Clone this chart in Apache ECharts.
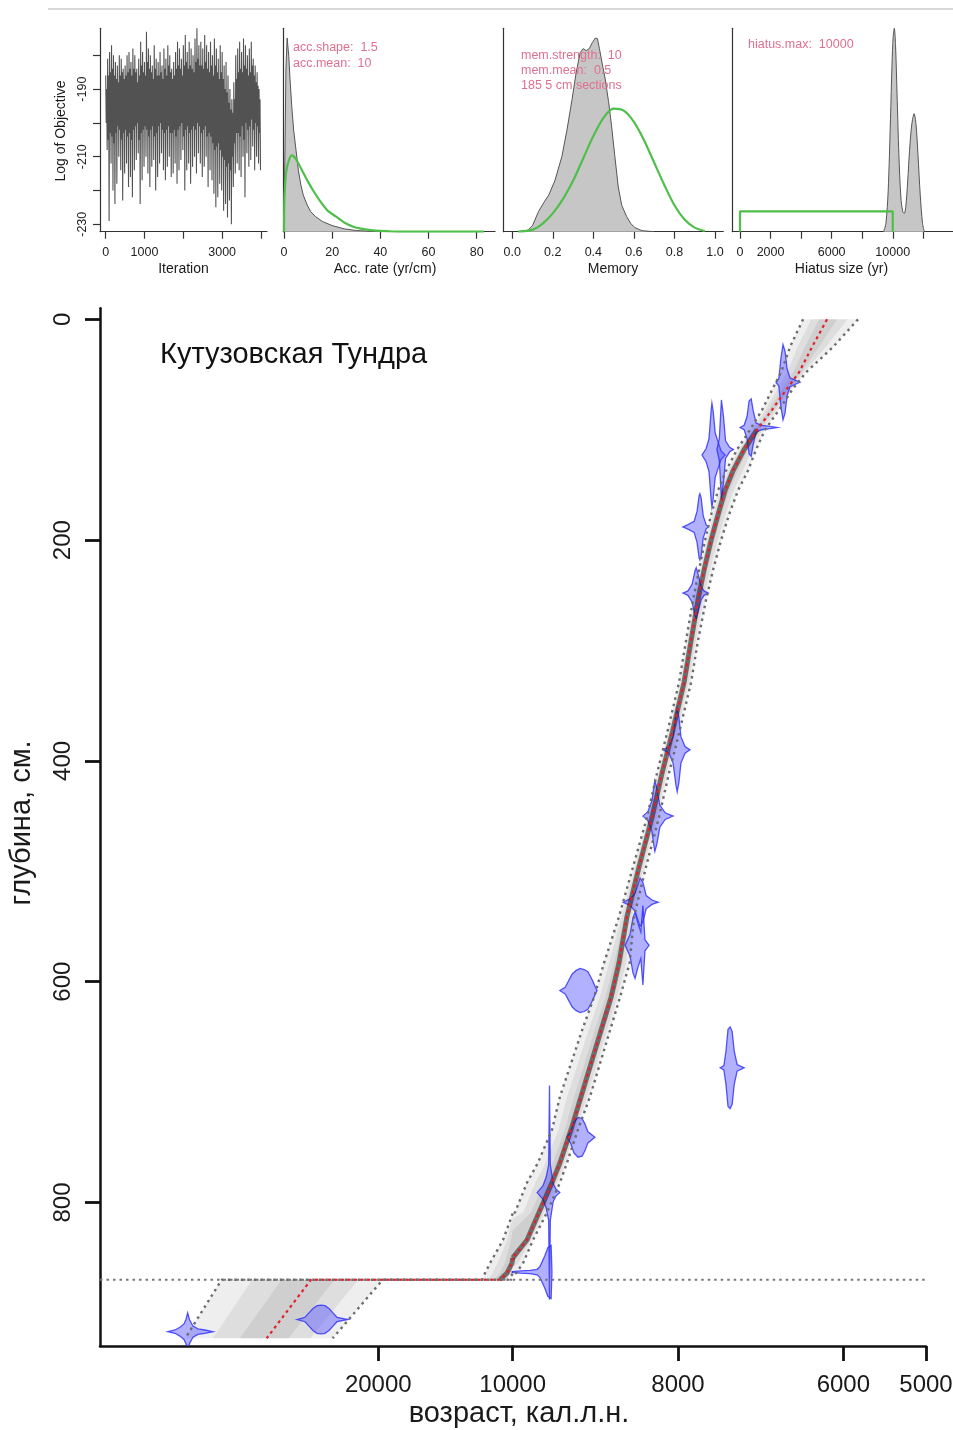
<!DOCTYPE html>
<html>
<head>
<meta charset="utf-8">
<script src="https://cdn.jsdelivr.net/npm/echarts@6/dist/echarts.min.js"></script>
<style>
  html, body { margin: 0; padding: 0; background: #fff; }
  #c { width: 953px; height: 1430px; }
</style>
</head>
<body>
<div id="c"></div>
<script>
// ---------- MCMC trace (log of objective), summarised per 50 iterations ----------
const traceStep = 50;
const traceHigh = [
  -186,-181,-179,-177,-180,-182,-183,-180,-181,-184,
  -183,-180,-179,-182,-178,-180,-184,-181,-176,-179,
  -182,-173,-178,-180,-183,-177,-181,-182,-179,-183,
  -178,-181,-177,-180,-184,-182,-179,-176,-178,-181,
  -177,-174,-179,-176,-178,-180,-175,-172,-177,-176,
  -178,-174,-177,-179,-176,-180,-175,-178,-181,-177,
  -179,-183,-182,-186,-190,-193,-188,-180,-178,-176,
  -179,-175,-177,-180,-178,-176,-181,-183,-185,-190
];
const traceMidHigh = [
  -190,-186,-185,-184,-186,-187,-188,-186,-185,-187,
  -186,-185,-184,-186,-184,-185,-188,-186,-183,-185,
  -186,-182,-184,-185,-187,-184,-186,-186,-185,-187,
  -184,-186,-183,-185,-187,-186,-184,-183,-184,-186,
  -183,-182,-184,-183,-184,-185,-182,-181,-183,-183,
  -184,-182,-184,-185,-183,-186,-183,-185,-187,-185,
  -187,-190,-191,-194,-196,-197,-193,-187,-185,-184,
  -185,-183,-184,-186,-185,-183,-186,-188,-189,-193
];
const traceMidLow = [
  -200,-205,-203,-204,-206,-203,-201,-202,-205,-203,
  -202,-204,-203,-205,-202,-201,-200,-205,-203,-202,
  -201,-202,-204,-202,-201,-204,-203,-201,-200,-202,
  -203,-202,-201,-203,-203,-202,-204,-202,-201,-200,
  -204,-202,-201,-203,-202,-201,-202,-200,-201,-203,
  -202,-201,-204,-203,-204,-206,-208,-207,-206,-208,
  -210,-211,-213,-212,-214,-210,-206,-203,-203,-204,
  -201,-205,-200,-202,-201,-199,-202,-200,-201,-203
];
const traceLow = [
  -208,-229,-212,-220,-224,-218,-210,-214,-223,-215,
  -212,-219,-216,-222,-214,-211,-209,-224,-217,-213,
  -210,-215,-219,-213,-211,-220,-216,-212,-209,-214,
  -217,-213,-210,-216,-215,-212,-218,-214,-211,-208,
  -220,-214,-212,-218,-213,-210,-215,-209,-212,-216,
  -213,-210,-219,-214,-217,-221,-225,-222,-218,-220,
  -226,-224,-228,-223,-230,-219,-215,-212,-214,-216,
  -210,-222,-209,-213,-211,-207,-214,-210,-212,-214
];

// ---------- accumulation rate: posterior (grey) and gamma prior (green) ----------
const accPostX  = [0,0.4,0.8,1.3,2,2.5,3.2,4,5,6,7,8,9.5,11,13,16,20,25,30,36,42];
const accPostY  = [0,0.4,0.8,0.952,0.86,0.75,0.62,0.5,0.4,0.3,0.23,0.18,0.135,0.1,0.075,0.05,0.03,0.014,0.006,0.002,0];
const accPriorX = [0,0.1,0.4,1,2,3.2,4.5,6,8,10,12.5,15,18,21.5,25,28.5,32,36,40,45,50,83];
const accPriorY = [0,0.13,0.22,0.3,0.35,0.375,0.365,0.335,0.29,0.245,0.195,0.15,0.105,0.075,0.045,0.026,0.015,0.008,0.004,0.001,0,0];

// ---------- memory: posterior (grey) and beta prior (green) ----------
const memPostX  = [0.06,0.08,0.1,0.13,0.16,0.18,0.21,0.245,0.27,0.295,0.315,0.335,0.35,0.365,0.38,0.395,0.41,0.42,0.43,0.445,0.457,0.475,0.49,0.505,0.523,0.54,0.564,0.585,0.605,0.64,0.7];
const memPostY  = [0,0.01,0.03,0.1,0.15,0.18,0.25,0.37,0.5,0.65,0.78,0.88,0.9,0.89,0.9,0.93,0.952,0.95,0.9,0.82,0.76,0.64,0.52,0.38,0.22,0.13,0.075,0.04,0.02,0.005,0];
const memPriorX = [0.03,0.1,0.15,0.2,0.25,0.3,0.35,0.4,0.45,0.5,0.55,0.6,0.65,0.7,0.75,0.8,0.85,0.9,0.95];
const memPriorY = [0,0.01,0.04,0.09,0.16,0.25,0.36,0.47,0.56,0.605,0.595,0.54,0.45,0.34,0.23,0.13,0.06,0.02,0.003];

// ---------- hiatus size: posterior (grey) and uniform prior (green) ----------
const hiatusPostX  = [9400,9550,9700,9850,9950,10030,10100,10180,10280,10400,10530,10650,10750,10850,10980,11100,11250,11400,11520,11650,11800,11950,12070];
const hiatusPostY  = [0,0.04,0.2,0.55,0.82,0.96,1.0,0.92,0.68,0.38,0.17,0.1,0.09,0.12,0.25,0.4,0.53,0.58,0.53,0.38,0.18,0.04,0];
const hiatusPriorX = [0,0,10000,10000];
const hiatusPriorY = [0,0.1,0.1,0];

// ---------- age-depth model (cal BP) ----------
const hiatusDepth = 870;
const modelDepth = [0,25,48,64,82,100,118,137,155,177,200,227,254,291,329,375,411,451,496,541,583,614,644,674,704,734,764,782,809,834,855,864,870,870,923];
const modelOld   = [6487,6645,6754,6863,6983,7129,7286,7419,7516,7600,7673,7746,7818,7903,7988,8133,8254,8375,8544,8714,8895,9016,9161,9294,9428,9524,9694,9827,9972,10722,11689,12061,12284,31650,34360];
const modelMean  = [6197,6378,6536,6693,6863,7044,7201,7334,7431,7516,7600,7685,7758,7842,7927,8072,8193,8314,8472,8617,8714,8810,8931,9052,9173,9294,9428,9524,9682,9827,10052,10424,10945,25006,28300];
const modelYoung = [5822,6124,6451,6621,6778,6947,7056,7153,7274,7383,7479,7576,7661,7758,7842,7988,8109,8230,8387,8532,8585,8701,8822,8943,9064,9210,9343,9428,9585,9754,9875,9960,10350,19672,23390];

// ---------- calibrated dates: depth, and probability outline (age, half-height in cm) ----------
const dateDepth = [57,98,123,118,188,248,390,450,528,567,608,678,741,791,863,917,906];
const dateAges = [
  [6815,6780,6755,6730,6705,6680,6645,6585,6525],
  [7250,7200,7165,7140,7115,7090,7055,6985,6885,6800],
  [7710,7660,7625,7600,7590,7575,7550,7515,7480,7430],
  [7530,7500,7475,7450,7425,7375,7330],
  [7940,7880,7805,7770,7745,7735,7720,7695,7660,7635],
  [7940,7880,7830,7795,7780,7760,7720,7685,7635],
  [8180,8110,8060,8025,8010,7990,7965,7915,7855],
  [8425,8365,8315,8290,8280,8255,8220,8155,8060],
  [8665,8580,8520,8485,8460,8425,8385,8315,8240],
  [8640,8580,8545,8520,8485,8450,8425,8400,8350],
  [9430,9365,9330,9280,9235,9185,9135,9090,9040,9005,8980],
  [7490,7445,7420,7395,7370,7345,7320,7285,7200],
  [9345,9295,9260,9210,9160,9125,9090,9005],
  [9705,9635,9595,9565,9555,9545,9510,9475,9430],
  [10055,9910,9790,9705,9670,9610,9575,9535,9525],
  [35645,35125,34755,34455,34305,34180,34045,33785,33415,32895,32300],
  [26050,25455,25155,24860,24560,24260,23965,23665,23370,23070,22255]
];
const dateHalf = [
  [0,3.5,22,34,28,12,4,2,0],
  [0,2,10,24,26,15,4,2,1,0],
  [0,6,15,40,47,40,20,12,4,0],
  [0,10,45,30,8,2,0],
  [0,2,5,14,28,30,26,10,2,0],
  [0,2,8,20,23,18,6,2,0],
  [0,3,12,32,38,30,12,3,0],
  [0,4,14,28,32,25,10,3,0],
  [0,3,8,16,22,18,6,2,0],
  [0,10,25,30,20,12,36,5,0],
  [0,3,8,15,18,20,19,17,10,4,0],
  [0,2,15,35,37,33,15,3,0],
  [0,6,14,18,17,12,5,0],
  [0,6,14,25,97,25,8,3,0],
  [0,1,1.5,2.5,5,15,22,24,0],
  [0,1.5,4,7,11,17,11,5,2.5,1.5,0],
  [0,2,6,10,12.5,13,12.5,10,6,2,0]
];

// ---------- tick positions ----------
const iterTicks = [0,1000,2000,3000,4000];
const iterLabels = [0,1000,3000];
const objTicks = [-230,-220,-210,-200,-190,-180];
const objLabels = [-230,-210,-190];
const accTicks = [0,20,40,60,80];
const memTicks = [0,0.2,0.4,0.6,0.8,1.0];
const hiatusTicks = [0,2000,4000,6000,8000,10000,12000];
const hiatusLabels = [0,2000,6000,10000];
const depthTicks = [0,200,400,600,800];
const ageTicksOld = [20000];
const ageTicksYoung = [10000,8000,6000,5000];

// the age axis is drawn in two linear pieces that meet at this age
const SPLIT_AGE = 10000;

const FONT = '"Liberation Sans", Arial, Helvetica, sans-serif';
const PINK = '#df7090';
const GREEN = '#4fbf4a';

function zip(xs, ys) { return xs.map((x, i) => [x, ys[i]]); }
const plain = v => String(v);

// small panel axes
function smallX(grid, min, max, ticks, labels, fmt) {
  return {
    type: 'value', gridIndex: grid, min, max,
    axisLine: { show: true, onZero: false, lineStyle: { color: '#333', width: 1.2 } },
    axisTick: { show: true, customValues: ticks, length: 7, lineStyle: { color: '#333', width: 1.2 } },
    axisLabel: { show: true, customValues: labels, margin: 14, fontSize: 12.5, color: '#222',
                 fontFamily: FONT, formatter: fmt || plain },
    splitLine: { show: false }
  };
}
function smallY(grid) {
  return {
    type: 'value', gridIndex: grid, min: 0, max: 1,
    axisLine: { show: true, onZero: false, lineStyle: { color: '#333', width: 1.2 } },
    axisTick: { show: false }, axisLabel: { show: false }, splitLine: { show: false }
  };
}
function ageAxis(grid, min, max, ticks) {
  return {
    type: 'value', gridIndex: grid, inverse: true, min, max,
    axisLine: { show: true, onZero: false, lineStyle: { color: '#111', width: 2.5 } },
    axisTick: { show: true, customValues: ticks, length: 15, lineStyle: { color: '#111', width: 2.8 } },
    axisLabel: { show: true, customValues: ticks, margin: 27, fontSize: 24, color: '#1a1a1a',
                 fontFamily: FONT, formatter: plain },
    splitLine: { show: false }
  };
}

const mainTop = 308.3, mainHeight = 1037.7;
const grids = [
  { left: 100,   top: 28.3, width: 167,   height: 203.4 },
  { left: 283.3, top: 28.3, width: 211.7, height: 203.4 },
  { left: 503.3, top: 28.3, width: 220,   height: 203.4 },
  { left: 732.3, top: 28.3, width: 220.7, height: 203.4 },
  { left: 100,   top: mainTop, width: 412.7, height: mainHeight },   // ages older than 10 000
  { left: 512.7, top: mainTop, width: 413.3, height: mainHeight }    // ages 10 000 - 5 000
].map(g => Object.assign({ outerBoundsMode: 'none', containLabel: false }, g));

const xAxes = [
  smallX(0, -147, 4155, iterTicks, iterLabels),
  smallX(1, -0.29, 87.6, accTicks, accTicks),
  smallX(2, -0.044, 1.041, memTicks, memTicks, v => v.toFixed(1)),
  smallX(3, -504, 13944, hiatusTicks, hiatusLabels),
  ageAxis(4, SPLIT_AGE, 40700, ageTicksOld),
  ageAxis(5, 5000, SPLIT_AGE, ageTicksYoung)
];

const yAxes = [
  {
    type: 'value', gridIndex: 0, min: -232.2, max: -172,
    axisLine: { show: true, onZero: false, lineStyle: { color: '#333', width: 1.2 } },
    axisTick: { show: true, customValues: objTicks, length: 7, lineStyle: { color: '#333', width: 1.2 } },
    axisLabel: { show: true, customValues: objLabels, rotate: 90, margin: 11, fontSize: 12.5, color: '#222', fontFamily: FONT },
    splitLine: { show: false }
  },
  smallY(1), smallY(2), smallY(3),
  {
    type: 'value', gridIndex: 4, inverse: true, min: -10, max: 930,
    axisLine: { show: true, onZero: false, lineStyle: { color: '#111', width: 2.5 } },
    axisTick: { show: true, customValues: depthTicks, length: 15, lineStyle: { color: '#111', width: 2.8 } },
    axisLabel: { show: true, customValues: depthTicks, rotate: 90, margin: 25, fontSize: 24, color: '#1a1a1a', fontFamily: FONT },
    splitLine: { show: false }
  },
  { type: 'value', gridIndex: 5, inverse: true, min: -10, max: 930, show: false }
];

// trace: sweep through each block's extremes and its typical range
const traceData = [];
traceHigh.forEach((h, i) => {
  const x0 = i * traceStep;
  traceData.push([x0, h]);
  traceData.push([x0 + traceStep * 0.25, traceMidLow[i]]);
  traceData.push([x0 + traceStep * 0.5, traceMidHigh[i]]);
  traceData.push([x0 + traceStep * 0.75, traceLow[i]]);
});

const series = [
  { type: 'line', xAxisIndex: 0, yAxisIndex: 0, data: traceData, symbol: 'none',
    lineStyle: { color: '#525252', width: 1.1 } },
  { type: 'line', xAxisIndex: 1, yAxisIndex: 1, data: zip(accPostX, accPostY), symbol: 'none',
    lineStyle: { color: '#555', width: 1 }, areaStyle: { color: '#c6c6c6', opacity: 1 } },
  { type: 'line', xAxisIndex: 1, yAxisIndex: 1, data: zip(accPriorX, accPriorY), symbol: 'none', smooth: 0.2,
    lineStyle: { color: GREEN, width: 2.2 } },
  { type: 'line', xAxisIndex: 2, yAxisIndex: 2, data: zip(memPostX, memPostY), symbol: 'none',
    lineStyle: { color: '#555', width: 1 }, areaStyle: { color: '#c6c6c6', opacity: 1 } },
  { type: 'line', xAxisIndex: 2, yAxisIndex: 2, data: zip(memPriorX, memPriorY), symbol: 'none', smooth: 0.3,
    lineStyle: { color: GREEN, width: 2.2 } },
  { type: 'line', xAxisIndex: 3, yAxisIndex: 3, data: zip(hiatusPostX, hiatusPostY), symbol: 'none', smooth: 0.3,
    lineStyle: { color: '#555', width: 1 }, areaStyle: { color: '#c6c6c6', opacity: 1 } },
  { type: 'line', xAxisIndex: 3, yAxisIndex: 3, data: zip(hiatusPriorX, hiatusPriorY), symbol: 'none',
    lineStyle: { color: GREEN, width: 2.2 } }
];

// ---- splitting marks between the two pieces of the age axis ----
const onSide = (age, old) => old ? age >= SPLIT_AGE : age <= SPLIT_AGE;

// polyline -> list of continuous pieces lying on one side of the split
function linePieces(ages, depths, old) {
  const pieces = [];
  let cur = [];
  for (let i = 0; i < ages.length; i++) {
    if (i > 0 && onSide(ages[i - 1], old) !== onSide(ages[i], old)) {
      const t = (SPLIT_AGE - ages[i - 1]) / (ages[i] - ages[i - 1]);
      cur.push([SPLIT_AGE, depths[i - 1] + t * (depths[i] - depths[i - 1])]);
      if (!onSide(ages[i], old)) { pieces.push(cur); cur = []; }
    }
    if (onSide(ages[i], old)) cur.push([ages[i], depths[i]]);
  }
  if (cur.length > 1) pieces.push(cur);
  return pieces.filter(p => p.length > 1);
}

// polygon (in data units) clipped to one side of the split
function clipPolygon(pts, old) {
  const out = [];
  for (let i = 0; i < pts.length; i++) {
    const p = pts[i], q = pts[(i + 1) % pts.length];
    const pin = onSide(p[0], old), qin = onSide(q[0], old);
    if (pin) out.push(p);
    if (pin !== qin) {
      const t = (SPLIT_AGE - p[0]) / (q[0] - p[0]);
      out.push([SPLIT_AGE, p[1] + t * (q[1] - p[1])]);
    }
  }
  return out;
}

const hiatusIdx = modelDepth.indexOf(hiatusDepth);

function bandPoints(a, b, leftFn, rightFn) {
  const pts = [];
  for (let i = a; i <= b; i++) pts.push([leftFn(i), modelDepth[i]]);
  for (let i = b; i >= a; i--) pts.push([rightFn(i), modelDepth[i]]);
  return pts;
}

function makeBandRenderer(old) {
  return function (params, api) {
    const segs = [[0, hiatusIdx], [hiatusIdx + 1, modelDepth.length - 1]];
    const layers = [1, 0.66, 0.33];
    const children = [];
    segs.forEach(([a, b]) => {
      layers.forEach(f => {
        const pts = clipPolygon(bandPoints(a, b,
          i => modelMean[i] + f * (modelOld[i] - modelMean[i]),
          i => modelMean[i] + f * (modelYoung[i] - modelMean[i])), old);
        if (pts.length > 2) {
          children.push({ type: 'polygon', shape: { points: pts.map(p => api.coord(p)) },
                          style: { fill: 'rgba(0,0,0,0.065)' } });
        }
      });
    });
    return { type: 'group', children };
  };
}

function makeDateRenderer(old) {
  return function (params, api) {
    const k = api.value(2);
    const ages = dateAges[k], half = dateHalf[k], d = dateDepth[k];
    const pts = [];
    for (let i = 0; i < ages.length; i++) pts.push([ages[i], d - half[i]]);
    for (let i = ages.length - 1; i >= 0; i--) pts.push([ages[i], d + half[i]]);
    const clipped = clipPolygon(pts, old);
    if (clipped.length < 3) return null;
    return { type: 'polygon', shape: { points: clipped.map(p => api.coord(p)) },
             style: { fill: 'rgba(70,70,255,0.42)', stroke: 'rgba(45,45,250,0.8)', lineWidth: 1.3 } };
  };
}

const dateData = dateDepth.map((d, k) => {
  const peak = dateHalf[k].indexOf(Math.max(...dateHalf[k]));
  return [dateAges[k][peak], d, k];
});

const coreStart = modelDepth.indexOf(100);
const coreAges = modelMean.slice(coreStart, hiatusIdx + 1);
const coreDepths = modelDepth.slice(coreStart, hiatusIdx + 1);

function pushLines(ax, pieces, lineStyle) {
  pieces.forEach(p => series.push({ type: 'line', xAxisIndex: ax, yAxisIndex: ax, data: p,
                                    symbol: 'none', clip: false, silent: true, lineStyle }));
}

[[4, true, [40700, SPLIT_AGE]], [5, false, [SPLIT_AGE, 4950]]].forEach(([ax, old, span]) => {
  series.push(
    { type: 'custom', xAxisIndex: ax, yAxisIndex: ax, clip: true, silent: true,
      data: [[modelMean[0], modelDepth[0]]], renderItem: makeBandRenderer(old) }
  );
  pushLines(ax, linePieces(coreAges, coreDepths, old), { color: 'rgba(35,25,20,0.55)', width: 5 });
  series.push(
    { type: 'custom', xAxisIndex: ax, yAxisIndex: ax, clip: true, silent: true,
      data: dateData, renderItem: makeDateRenderer(old) }
  );
  pushLines(ax, [span.map(a => [a, hiatusDepth])], { color: '#777', width: 2, type: [2.5, 4] });
  const grey = { color: '#6c6c6c', width: 2.4, type: [2.5, 4] };
  pushLines(ax, linePieces(modelOld, modelDepth, old), grey);
  pushLines(ax, linePieces(modelYoung, modelDepth, old), grey);
  pushLines(ax, linePieces(modelMean, modelDepth, old), { color: '#e3202a', width: 2.2, type: [3, 3.5] });
});

const panelText = (x, y, s) => ({ type: 'text', x, y, z: 100,
  style: { text: s, fill: PINK, font: '12.5px ' + FONT, verticalAlign: 'middle' } });
const blackText = (x, y, s, size, rot) => ({ type: 'text', x, y, rotation: rot || 0, z: 100,
  style: { text: s, fill: '#1a1a1a', font: size + 'px ' + FONT, align: 'center', verticalAlign: 'middle' } });

const graphic = [
  { type: 'line', shape: { x1: 48, y1: 9, x2: 953, y2: 9 }, style: { stroke: '#d9d9d9', lineWidth: 2 } },
  panelText(293, 48, 'acc.shape:  1.5'),
  panelText(293, 64, 'acc.mean:  10'),
  panelText(521, 56, 'mem.strength:  10'),
  panelText(521, 71, 'mem.mean:  0.5'),
  panelText(521, 86, '185 5 cm sections'),
  panelText(748, 45, 'hiatus.max:  10000'),
  blackText(183.5, 269.5, 'Iteration', 14),
  blackText(385, 269.5, 'Acc. rate (yr/cm)', 14),
  blackText(613, 269.5, 'Memory', 14),
  blackText(841.5, 269.5, 'Hiatus size (yr)', 14),
  blackText(61.5, 131, 'Log of Objective', 14, Math.PI / 2),
  { type: 'text', x: 160, y: 355, z: 100,
    style: { text: 'Кутузовская Тундра', fill: '#111', font: '29px ' + FONT, verticalAlign: 'middle' } },
  blackText(519, 1414, 'возраст, кал.л.н.', 29),
  blackText(22, 823, 'глубина, см.', 29, Math.PI / 2)
];

const chart = echarts.init(document.getElementById('c'), null, { renderer: 'canvas', width: 953, height: 1430 });
chart.setOption({
  animation: false,
  backgroundColor: '#ffffff',
  grid: grids,
  xAxis: xAxes,
  yAxis: yAxes,
  series,
  graphic
});
</script>
</body>
</html>
